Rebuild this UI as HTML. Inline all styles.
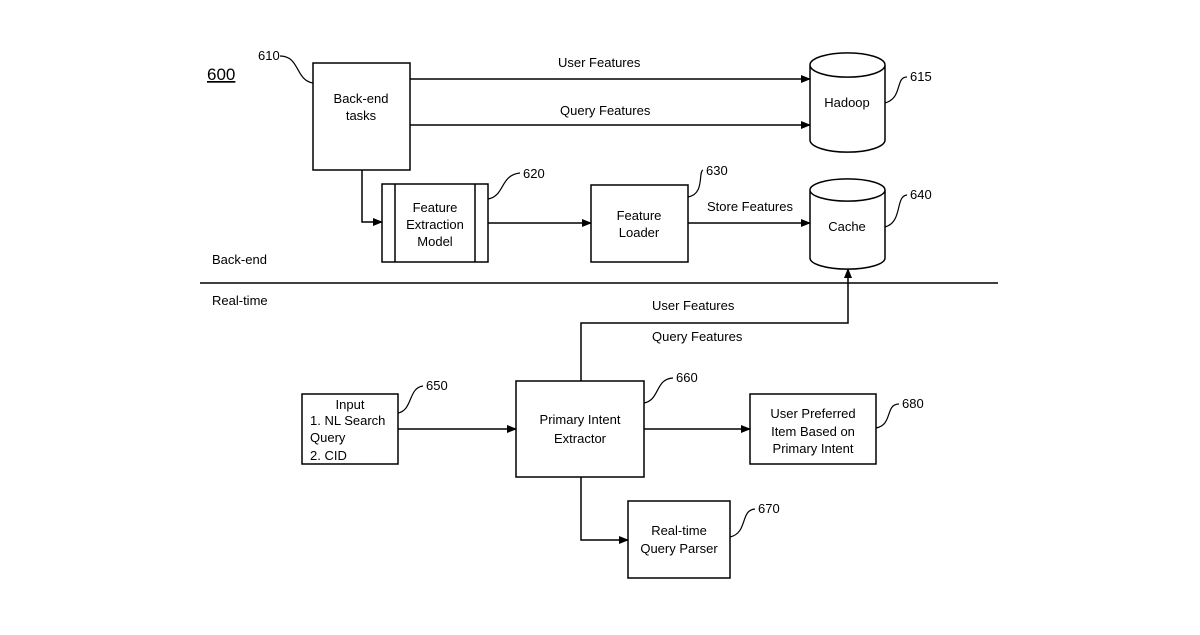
<!DOCTYPE html>
<html><head><style>body{margin:0;background:#fff}</style></head><body>
<svg width="1200" height="630" xmlns="http://www.w3.org/2000/svg" font-family="Liberation Sans, Arial, sans-serif" font-size="13" fill="none" stroke="#000" stroke-width="1.5">
<defs><marker id="a" markerWidth="10" markerHeight="8" refX="9" refY="4" orient="auto" markerUnits="userSpaceOnUse"><path d="M0,0 L10,4 L0,8 Z" fill="#000" stroke="none"/></marker></defs>
<g fill="#000" stroke="none">
<text x="207" y="80" font-size="17" text-decoration="underline">600</text>
<text x="258" y="60">610</text>
<text x="523" y="178">620</text>
<text x="706" y="175">630</text>
<text x="910" y="81">615</text>
<text x="910" y="199">640</text>
<text x="426" y="390">650</text>
<text x="676" y="382">660</text>
<text x="902" y="408">680</text>
<text x="758" y="513">670</text>
<text x="212" y="264">Back-end</text>
<text x="212" y="305">Real-time</text>
<text x="558" y="67">User Features</text>
<text x="560" y="115">Query Features</text>
<text x="707" y="211">Store Features</text>
<text x="652" y="310">User Features</text>
<text x="652" y="341">Query Features</text>
<g text-anchor="middle">
<text x="361" y="103">Back-end</text><text x="361" y="120">tasks</text>
<text x="435" y="212">Feature</text><text x="435" y="229">Extraction</text><text x="435" y="246">Model</text>
<text x="639" y="220">Feature</text><text x="639" y="237">Loader</text>
<text x="847" y="107">Hadoop</text>
<text x="847" y="231">Cache</text>
<text x="350" y="409">Input</text>
<text x="580" y="424">Primary Intent</text><text x="580" y="443">Extractor</text>
<text x="813" y="418">User Preferred</text><text x="813" y="436">Item Based on</text><text x="813" y="453">Primary Intent</text>
<text x="679" y="535">Real-time</text><text x="679" y="553">Query Parser</text>
</g>
<text x="310" y="425">1. NL Search</text><text x="310" y="442">Query</text><text x="310" y="460">2. CID</text>
</g>
<rect x="313" y="63" width="97" height="107"/>
<rect x="382" y="184" width="106" height="78"/><line x1="395" y1="184" x2="395" y2="262"/><line x1="475" y1="184" x2="475" y2="262"/>
<rect x="591" y="185" width="97" height="77"/>
<rect x="302" y="394" width="96" height="70"/>
<rect x="516" y="381" width="128" height="96"/>
<rect x="750" y="394" width="126" height="70"/>
<rect x="628" y="501" width="102" height="77"/>
<path d="M810,65 A37,12 0 0 1 885,65 L885,140 A37,12 0 0 1 810,140 Z M810,65 A37,12 0 0 0 885,65"/>
<path d="M810,190 A37,11 0 0 1 885,190 L885,258 A37,11 0 0 1 810,258 Z M810,190 A37,11 0 0 0 885,190"/>
<line x1="200" y1="283" x2="998" y2="283"/>
<path d="M410,79 H810" marker-end="url(#a)"/>
<path d="M410,125 H810" marker-end="url(#a)"/>
<path d="M362,170 V222 H382" marker-end="url(#a)"/>
<path d="M488,223 H591" marker-end="url(#a)"/>
<path d="M688,223 H810" marker-end="url(#a)"/>
<path d="M581,381 V323 H848 V269" marker-end="url(#a)"/>
<path d="M398,429 H516" marker-end="url(#a)"/>
<path d="M644,429 H750" marker-end="url(#a)"/>
<path d="M581,477 V540 H628" marker-end="url(#a)"/>
<g stroke-width="1.2">
<path d="M280,56 C300,56 295,80 313,83"/>
<path d="M488,199 C505,196 500,175 520,173"/>
<path d="M688,197 C705,194 698,172 703,170"/>
<path d="M885,103 C903,98 895,77 907,77"/>
<path d="M885,227 C903,222 895,196 907,195"/>
<path d="M398,413 C413,410 408,388 423,386"/>
<path d="M644,403 C660,400 655,379 673,378"/>
<path d="M876,428 C893,425 885,404 899,404"/>
<path d="M730,537 C748,533 740,510 755,509"/>
</g>
</svg>
</body></html>
